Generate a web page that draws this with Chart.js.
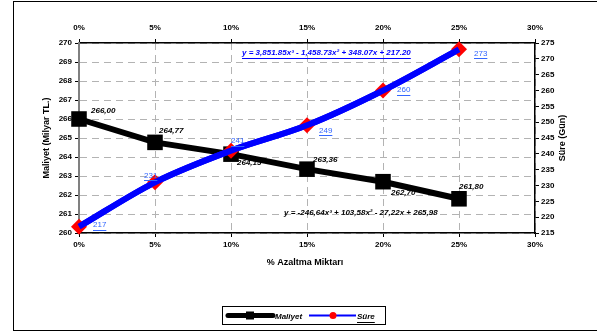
<!DOCTYPE html>
<html>
<head>
<meta charset="utf-8">
<script src="https://cdn.jsdelivr.net/npm/chart.js@4/dist/chart.umd.min.js"></script>
<style>
  html, body { margin: 0; padding: 0; background: #fff; }
  #wrap { width: 597px; height: 334px; }
</style>
</head>
<body>
<div id="wrap"><canvas id="chart" width="597" height="334"></canvas></div>
<script>
'use strict';

// % Azaltma Miktarı
const reductions = [0, 5, 10, 15, 20, 25];
const maliyet = [266.00, 264.77, 264.15, 263.36, 262.70, 261.80];
const sure = [217, 231, 241, 249, 260, 273];

const sureEquation = 'y = 3,851.85x³ - 1,458.73x² + 348.07x + 217.20';
const maliyetEquation = 'y = -246,64x³ + 103,58x² - 27,22x + 265,98';

// where each value label sits, relative to its point
const maliyetLabelOffsets = [[12, -8], [4, -12], [6, 9], [6, -9], [8, 11], [0, -12]];
const sureLabelOffsets = [[14, -2], [-11, -7], [0, -10], [12, 5], [14, -1], [15, 4]];

const FONT = '"Liberation Sans", Arial, sans-serif';
const tickFont = { family: FONT, size: 8, weight: 'bold' };

function underline(ctx, text, x, y, color) {
    const w = ctx.measureText(text).width;
    ctx.strokeStyle = color;
    ctx.lineWidth = 1;
    ctx.beginPath();
    ctx.moveTo(x, Math.round(y) + 5.5);
    ctx.lineTo(x + w, Math.round(y) + 5.5);
    ctx.stroke();
}

const labelsPlugin = {
    id: 'valueLabels',
    afterDatasetDraw(chart, args) {
        // blue Süre curve sits over its red diamonds, as in the original
        if (args.index === 0) {
            args.meta.dataset.draw(chart.ctx, chart.chartArea);
        }
    },
    afterDatasetsDraw(chart) {
        const ctx = chart.ctx;
        ctx.save();
        ctx.font = 'italic bold 8px ' + FONT;
        ctx.textAlign = 'left';
        ctx.textBaseline = 'middle';

        const mMeta = chart.getDatasetMeta(1);
        mMeta.data.forEach((pt, i) => {
            const [dx, dy] = maliyetLabelOffsets[i];
            ctx.fillStyle = '#000';
            ctx.fillText(maliyet[i].toFixed(2).replace('.', ','), pt.x + dx, pt.y + dy);
        });

        ctx.font = '8px ' + FONT;
        const sMeta = chart.getDatasetMeta(0);
        sMeta.data.forEach((pt, i) => {
            const [dx, dy] = sureLabelOffsets[i];
            const t = String(sure[i]);
            ctx.fillStyle = '#3366ff';
            ctx.fillText(t, pt.x + dx, pt.y + dy);
            underline(ctx, t, pt.x + dx, pt.y + dy, '#3366ff');
        });

        // trend equations
        ctx.font = 'italic bold 8px ' + FONT;
        ctx.fillStyle = '#0000ff';
        ctx.fillText(sureEquation, 242, 53);
        underline(ctx, sureEquation, 242, 53, '#0000ff');
        ctx.fillStyle = '#000';
        ctx.fillText(maliyetEquation, 284, 213);
        ctx.restore();
    }
};

const framePlugin = {
    id: 'frame',
    beforeDraw(chart) {
        const ctx = chart.ctx;
        ctx.save();
        ctx.fillStyle = '#fff';
        ctx.fillRect(0, 0, chart.width, chart.height);
        ctx.restore();
    },
    afterDraw(chart) {
        const ctx = chart.ctx;
        ctx.save();
        ctx.strokeStyle = '#000';
        ctx.lineWidth = 1;
        ctx.strokeRect(13.5, 1.5, 600, 329);

        // axis titles
        ctx.fillStyle = '#000';
        ctx.font = 'bold 9px ' + FONT;
        ctx.textAlign = 'center';
        ctx.textBaseline = 'middle';
        ctx.fillText('% Azaltma Miktarı', 305, 263);

        ctx.save();
        ctx.translate(47, 138);
        ctx.rotate(-Math.PI / 2);
        ctx.fillText('Maliyet (Milyar TL.)', 0, 0);
        ctx.restore();

        ctx.save();
        ctx.translate(563, 138);
        ctx.rotate(-Math.PI / 2);
        ctx.fillText('Süre (Gün)', 0, 0);
        ctx.restore();

        // legend
        ctx.lineWidth = 1;
        ctx.strokeRect(222.5, 306.5, 163, 18);
        const ly = 315.5;
        ctx.strokeStyle = '#000';
        ctx.lineWidth = 5;
        ctx.lineCap = 'round';
        ctx.beginPath();
        ctx.moveTo(228, ly);
        ctx.lineTo(273, ly);
        ctx.stroke();
        ctx.fillRect(246, ly - 4, 8, 8);

        ctx.strokeStyle = '#0000ff';
        ctx.lineWidth = 2;
        ctx.lineCap = 'butt';
        ctx.beginPath();
        ctx.moveTo(309, ly);
        ctx.lineTo(356, ly);
        ctx.stroke();
        ctx.fillStyle = '#ff0000';
        ctx.beginPath();
        ctx.arc(333, ly, 3.5, 0, Math.PI * 2);
        ctx.fill();

        ctx.fillStyle = '#000';
        ctx.font = 'italic bold 8px ' + FONT;
        ctx.textAlign = 'left';
        ctx.fillText('Maliyet', 275, ly + 1);
        ctx.fillText('Süre', 357, ly + 1);
        underline(ctx, 'Süre', 357, ly + 1, '#000');
        ctx.restore();
    }
};

const pctTick = v => v + '%';

new Chart(document.getElementById('chart'), {
    type: 'line',
    data: {
        datasets: [
            {
                label: 'Süre',
                data: reductions.map((r, i) => ({ x: r, y: sure[i] })),
                xAxisID: 'x',
                yAxisID: 'y1',
                borderColor: '#0000ff',
                borderWidth: 6,
                cubicInterpolationMode: 'monotone',
                pointStyle: 'rectRot',
                pointRadius: 8,
                pointBackgroundColor: '#ff0000',
                pointBorderColor: '#ff0000',
                pointBorderWidth: 0,
                clip: false,
                order: 0
            },
            {
                label: 'Maliyet',
                data: reductions.map((r, i) => ({ x: r, y: maliyet[i] })),
                xAxisID: 'x',
                yAxisID: 'y',
                borderColor: '#000',
                borderWidth: 6,
                pointStyle: 'rect',
                pointRadius: 11,
                pointBackgroundColor: '#000',
                pointBorderColor: '#000',
                pointBorderWidth: 0,
                clip: false,
                order: 1
            }
        ]
    },
    options: {
        responsive: false,
        animation: false,
        events: [],
        layout: { padding: 0 },
        plugins: {
            legend: { display: false },
            tooltip: { enabled: false }
        },
        scales: {
            x: {
                type: 'linear',
                position: 'bottom',
                min: 0,
                max: 30,
                ticks: { stepSize: 5, callback: pctTick, font: tickFont, color: '#000', padding: 3, maxRotation: 0 },
                grid: { color: '#b3b3b3', lineWidth: 1, tickLength: 4, tickColor: '#000', tickBorderDash: [] },
                border: { color: '#000', width: 1.5, dash: [7, 5] },
                afterFit: s => { s.height = 101; }
            },
            x2: {
                type: 'linear',
                position: 'top',
                min: 0,
                max: 30,
                ticks: { stepSize: 5, callback: pctTick, font: tickFont, color: '#000', padding: 6, maxRotation: 0 },
                grid: { drawOnChartArea: false, tickLength: 4, tickColor: '#000' },
                border: { color: '#000', width: 1.5 },
                afterFit: s => { s.height = 43; }
            },
            y: {
                position: 'left',
                min: 260,
                max: 270,
                ticks: { stepSize: 1, font: tickFont, color: '#000', padding: 3 },
                grid: { color: '#b3b3b3', lineWidth: 1, tickLength: 4, tickColor: '#000', tickBorderDash: [] },
                border: { color: '#808080', width: 2, dash: [7, 5] },
                afterFit: s => { s.width = 79; }
            },
            y1: {
                position: 'right',
                min: 215,
                max: 275,
                ticks: { stepSize: 5, font: tickFont, color: '#000', padding: 2 },
                grid: { drawOnChartArea: false, tickLength: 4, tickColor: '#000' },
                border: { color: '#000', width: 1.5 },
                afterFit: s => { s.width = 62; }
            }
        }
    },
    plugins: [framePlugin, labelsPlugin]
});
</script>
</body>
</html>
